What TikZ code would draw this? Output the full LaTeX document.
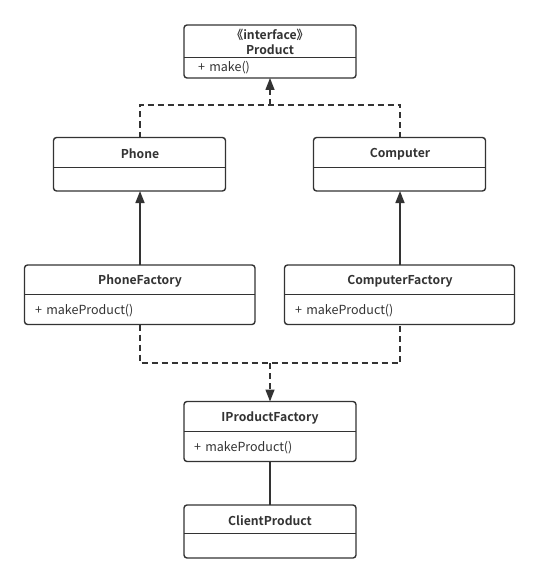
\documentclass[tikz,border=0pt]{standalone}
\usepackage{fontspec}
\setmainfont{Noto Sans CJK SC}[BoldFont={Noto Sans CJK SC Bold}]
\usetikzlibrary{arrows.meta}
\definecolor{ink}{HTML}{333333}
\tikzset{
  umlbox/.style={draw=ink, line width=1.4pt, rounded corners=3pt, fill=white},
  divider/.style={draw=ink, line width=1.2pt},
  title/.style={font=\bfseries\fontsize{12.2}{14}\selectfont, text=ink, inner sep=0pt},
  member/.style={font=\fontsize{12.5}{14}\selectfont, text=ink, inner sep=0pt, anchor=west},
  realize/.style={draw=ink, line width=1.4pt, dash pattern=on 6pt off 4pt},
  solidline/.style={draw=ink, line width=1.6pt},
  tip/.style={-{Triangle[length=12pt,width=9pt]}}
}
\begin{document}
\begin{tikzpicture}[x=1pt,y=-1pt]
\useasboundingbox (0,0) rectangle (539,583);
% Product
\draw[umlbox] (184,25) rectangle (356,78);
\draw[divider] (184,57.5) -- (356,57.5);
\node[title] (pI) at (270,35) {《interface》};
\node[title] (p) at (270,49.5) {Product};
\node[member] (pm) at (198,68) {+\,\,make()};
\coordinate (product) at (270,78);
% Phone
\draw[umlbox] (53.5,137.5) rectangle (225.5,191);
\draw[divider] (53.5,167.5) -- (225.5,167.5);
\node[title] (phone) at (140,154) {Phone};
\coordinate (phoneT) at (140,137.5);
\coordinate (phoneB) at (140,191);
% Computer
\draw[umlbox] (313.5,137.5) rectangle (485.5,191);
\draw[divider] (313.5,167.5) -- (485.5,167.5);
\node[title] (computer) at (400,154) {Computer};
\coordinate (compT) at (400,137.5);
\coordinate (compB) at (400,191);
% PhoneFactory
\draw[umlbox] (24.5,265) rectangle (255,324.5);
\draw[divider] (24.5,294.5) -- (255,294.5);
\node[title] (pf) at (140,281) {PhoneFactory};
\node[member] (pfm) at (35,311) {+\,\,makeProduct()};
\coordinate (pfT) at (140,265);
\coordinate (pfB) at (140,324.5);
% ComputerFactory
\draw[umlbox] (284.5,265) rectangle (514.5,324.5);
\draw[divider] (284.5,294.5) -- (514.5,294.5);
\node[title] (cf) at (400,281) {ComputerFactory};
\node[member] (cfm) at (295,311) {+\,\,makeProduct()};
\coordinate (cfT) at (400,265);
\coordinate (cfB) at (400,324.5);
% IProductFactory
\draw[umlbox] (184,401.5) rectangle (356,461.5);
\draw[divider] (184,431.5) -- (356,431.5);
\node[title] (ipf) at (270,418) {IProductFactory};
\node[member] (ipfm) at (194,448) {+\,\,makeProduct()};
\coordinate (ipfT) at (270,401.5);
\coordinate (ipfB) at (270,461.5);
% ClientProduct
\draw[umlbox] (184,505) rectangle (356,558);
\draw[divider] (184,533.5) -- (356,533.5);
\node[title] (client) at (270,521) {ClientProduct};
\coordinate (clientT) at (270,505);
% connectors
\coordinate (topbar) at (270,105);
\draw[realize] (phoneT) |- (topbar) -| (compT);
\draw[realize, tip] (topbar) -- (product);
\draw[solidline, tip] (pfT) -- (phoneB);
\draw[solidline, tip] (cfT) -- (compB);
\coordinate (botbar) at (270,363);
\draw[realize] (pfB) |- (botbar) -| (cfB);
\draw[realize, tip] (botbar) -- (ipfT);
\draw[solidline] (ipfB) -- (clientT);
\end{tikzpicture}
\end{document}
